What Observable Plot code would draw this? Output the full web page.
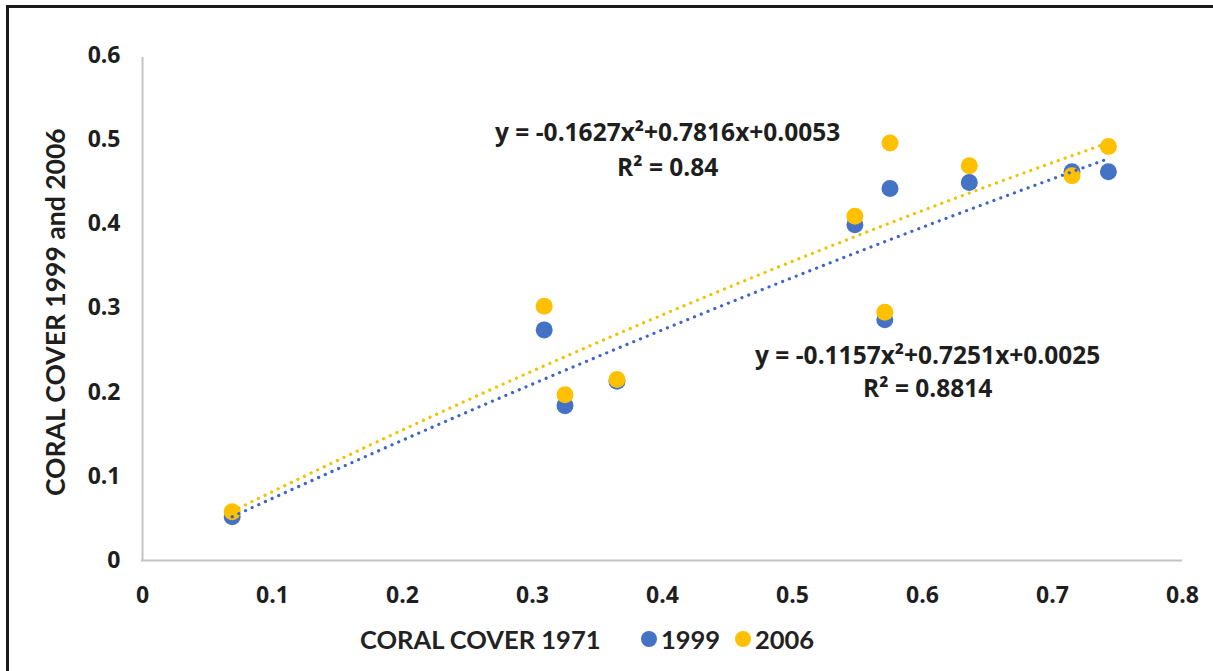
<!DOCTYPE html>
<html>
<head>
<meta charset="utf-8">
<script src="https://cdn.jsdelivr.net/npm/d3@7"></script>
<script src="https://cdn.jsdelivr.net/npm/@observablehq/plot@0.6"></script>
<style>
  html, body { margin: 0; padding: 0; background: #fff; }
  body { width: 1213px; height: 671px; position: relative; overflow: hidden; }
  #frame { position: absolute; left: 6px; top: 5px; right: -10px; bottom: -10px;
           border-top: 3px solid #1a1a1a; border-left: 3px solid #1a1a1a; pointer-events: none; }
  #chart { position: absolute; left: 0; top: 0; }
  #foot { position: absolute; left: 0; top: 615px; width: 1213px; height: 56px;
          font-family: Lato, "Open Sans", sans-serif; font-weight: 700; color: #222; }
  .xt { position: absolute; left: 360px; top: 9px; font-size: 25.5px; white-space: nowrap; }
  .lg { position: absolute; top: 9px; font-size: 25.5px; display: flex; align-items: center; white-space: nowrap; }
  .sw { width: 16px; height: 16px; border-radius: 50%; display: inline-block; margin-right: 4px; }
</style>
</head>
<body>
<div id="chart"></div>
<div id="foot"></div>
<div id="frame"></div>
<script>
// ---- data ----
const seriesNames = ["1999", "2006"];
const seriesColors = ["#4472C4", "#FFC000"];
const coral1971 = [0.069, 0.309, 0.325, 0.365, 0.548, 0.571, 0.575, 0.636, 0.715, 0.743];
const cover1999 = [0.052, 0.274, 0.184, 0.213, 0.399, 0.286, 0.442, 0.449, 0.462, 0.462];
const cover2006 = [0.058, 0.302, 0.197, 0.215, 0.409, 0.295, 0.496, 0.469, 0.457, 0.492];
// polynomial trendline coefficients as printed [a, b, c] for y = a x^2 + b x + c
const trend1999 = [-0.1157, 0.7251, 0.0025];
const trend2006 = [-0.1627, 0.7816, 0.0053];
const eqLabels = ["y = -0.1157x²+0.7251x+0.0025", "y = -0.1627x²+0.7816x+0.0053"];
const r2Labels = ["R² = 0.8814", "R² = 0.84"];
const xTicks = [0, 0.1, 0.2, 0.3, 0.4, 0.5, 0.6, 0.7, 0.8];
const xTickLabels = ["0", "0.1", "0.2", "0.3", "0.4", "0.5", "0.6", "0.7", "0.8"];
const yTicks = [0, 0.1, 0.2, 0.3, 0.4, 0.5, 0.6];
const yTickLabels = ["0", "0.1", "0.2", "0.3", "0.4", "0.5", "0.6"];
const xTitle = "CORAL COVER 1971";
const yTitle = "CORAL COVER 1999 and 2006";
// annotation anchor positions (data units)
const eqPos = [{x: 0.604, y: 0.243, ry: 0.203}, {x: 0.404, y: 0.508, ry: 0.466}];
const yTitlePos = {x: -0.066, y: 0.295};

// ---- derived tables ----
const pts1999 = coral1971.map((x, i) => ({x, y: cover1999[i]}));
const pts2006 = coral1971.map((x, i) => ({x, y: cover2006[i]}));
const xmin = d3.min(coral1971), xmax = d3.max(coral1971);
const trendPts = (c) => d3.range(0, 61).map(k => {
  const x = xmin + (xmax - xmin) * k / 60;
  return {x, y: c[0] * x * x + c[1] * x + c[2]};
});
const eqRows = eqPos.map((p, i) => ({x: p.x, y: p.y, t: eqLabels[i]}));
const r2Rows = eqPos.map((p, i) => ({x: p.x, y: p.ry, t: r2Labels[i]}));

const chart = Plot.plot({
  width: 1213,
  height: 615,
  marginLeft: 142,
  marginRight: 31,
  marginTop: 55,
  marginBottom: 55,
  x: {domain: [0, 0.8]},
  y: {domain: [0, 0.6]},
  style: {fontFamily: "'Open Sans', sans-serif", fontWeight: 700, fontSize: "23px", color: "#1e1e1e", background: "transparent"},
  marks: [
    Plot.ruleY([0], {stroke: "#c3c3c3", strokeWidth: 2, insetLeft: -1}),
    Plot.ruleX([0], {stroke: "#c3c3c3", strokeWidth: 2, insetTop: 2}),
    Plot.axisX({ticks: xTicks, tickSize: 0, tickPadding: 26, tickFormat: (d, i) => xTickLabels[i], label: null, fontSize: 23}),
    Plot.axisY({ticks: yTicks, tickSize: 0, tickPadding: 22, tickFormat: (d, i) => yTickLabels[i], label: null, fontSize: 23}),
    Plot.text([yTitlePos], {x: "x", y: "y", text: () => yTitle, rotate: -90, textAnchor: "middle", fontSize: 26.5, fontFamily: "Lato, sans-serif", fontWeight: 700, fill: "#1e1e1e"}),
    Plot.dot(pts1999, {x: "x", y: "y", r: 8.5, fill: seriesColors[0], stroke: null}),
    Plot.dot(pts2006, {x: "x", y: "y", r: 8.5, fill: seriesColors[1], stroke: null}),
    Plot.line(trendPts(trend2006), {x: "x", y: "y", stroke: "#F2C200", strokeWidth: 3.2, strokeDasharray: "0.1 7.2", strokeLinecap: "round"}),
    Plot.line(trendPts(trend1999), {x: "x", y: "y", stroke: "#3F66C6", strokeWidth: 3.2, strokeDasharray: "0.1 7.2", strokeLinecap: "round"}),
    Plot.text(eqRows, {x: "x", y: "y", text: "t", fontSize: 24.5, fill: "#1e1e1e", textAnchor: "middle"}),
    Plot.text(r2Rows, {x: "x", y: "y", text: "t", fontSize: 24.5, fill: "#1e1e1e", textAnchor: "middle"})
  ]
});
document.getElementById("chart").appendChild(chart);

// footer: x title + legend
const foot = document.getElementById("foot");
const xt = document.createElement("div");
xt.className = "xt"; xt.textContent = xTitle;
foot.appendChild(xt);
const legendLeft = [641, 735];
seriesNames.forEach((s, i) => {
  const d = document.createElement("div");
  d.className = "lg"; d.style.left = legendLeft[i] + "px";
  const sw = document.createElement("span");
  sw.className = "sw"; sw.style.background = seriesColors[i];
  d.appendChild(sw);
  d.appendChild(document.createTextNode(s));
  foot.appendChild(d);
});
</script>
</body>
</html>
